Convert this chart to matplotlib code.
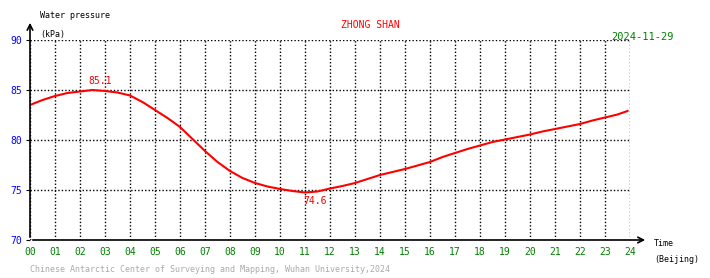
import matplotlib
matplotlib.use('Agg')
import matplotlib.pyplot as plt

# hourly water pressure readings (kPa)
hours = [0, 0.5, 1, 1.5, 2, 2.5, 3, 3.5, 4, 4.5, 5, 5.5, 6, 6.5, 7, 7.5, 8, 8.5, 9, 9.5,
         10, 10.5, 11, 11.5, 12, 12.5, 13, 13.5, 14, 14.5, 15, 15.5, 16, 16.5, 17, 17.5,
         18, 18.5, 19, 19.5, 20, 20.5, 21, 21.5, 22, 22.5, 23, 23.5, 23.9]
pressure = [83.5, 84.0, 84.4, 84.7, 84.85, 85.0, 84.9, 84.75, 84.45, 83.8, 83.0, 82.2, 81.3,
            80.1, 78.9, 77.8, 76.9, 76.2, 75.7, 75.35, 75.1, 74.9, 74.75, 74.85, 75.15, 75.4,
            75.7, 76.1, 76.5, 76.8, 77.1, 77.45, 77.8, 78.3, 78.7, 79.1, 79.45, 79.8, 80.05,
            80.3, 80.55, 80.85, 81.1, 81.35, 81.6, 81.95, 82.25, 82.55, 82.9]
max_label = (2.8, 85.1)
min_label = (11.4, 74.6)
xticks = list(range(0, 25))
xlabels = ['%02d' % h for h in xticks]
yticks = [70, 75, 80, 85, 90]

plt.rcParams['font.family'] = 'DejaVu Sans Mono'
fig = plt.figure(figsize=(7.1, 2.78), dpi=100)
ax = fig.add_axes([30/710, 38/278, 600/710, 200/278])
ax.set_xlim(0, 24)
ax.set_ylim(70, 90)
for s in ax.spines.values():
    s.set_visible(False)

ax.set_xticks(xticks)
ax.set_xticklabels(xlabels, color='green', fontsize=7)
ax.set_yticks(yticks)
ax.set_yticklabels([str(v) for v in yticks], color='blue', fontsize=7)
ax.tick_params(axis='x', length=0, pad=5)
ax.tick_params(axis='y', length=3, pad=3)
ax.grid(True, linestyle=(0, (1, 1.5)), color='black', linewidth=1)

ax.plot(hours, pressure, color='red', linewidth=1.5)
ax.text(max_label[0], max_label[1] + 0.3, '%.1f' % max_label[1], color='red', fontsize=7,
        ha='center', va='bottom')
ax.text(min_label[0], min_label[1] - 0.2, '%.1f' % min_label[1], color='red', fontsize=7,
        ha='center', va='top')

# axis arrows
ax.annotate('', xy=(0, 1.1), xytext=(0, 0), xycoords='axes fraction',
            arrowprops=dict(arrowstyle='->', color='black', lw=1.2), annotation_clip=False)
ax.annotate('', xy=(1.03, 0), xytext=(0, 0), xycoords='axes fraction',
            arrowprops=dict(arrowstyle='->', color='black', lw=1.2), annotation_clip=False)

fig.text(40/710, 1 - 16/278, 'Water pressure', fontsize=6, va='center')
fig.text(40/710, 1 - 34/278, '(kPa)', fontsize=6, va='center')
fig.text(370/710, 1 - 25/278, 'ZHONG SHAN', fontsize=7, color='red', ha='center', va='center')
fig.text(611/710, 1 - 37/278, '2024-11-29', fontsize=7.5, color='green', ha='left', va='center')
fig.text(654/710, 1 - 244/278, 'Time', fontsize=6, va='center')
fig.text(654/710, 1 - 259/278, '(Beijing)', fontsize=6, va='center')
fig.text(30/710, 1 - 270/278, 'Chinese Antarctic Center of Surveying and Mapping, Wuhan University,2024',
         fontsize=6, color='#aaaaaa', va='center')

plt.savefig('out.png', dpi=100)
